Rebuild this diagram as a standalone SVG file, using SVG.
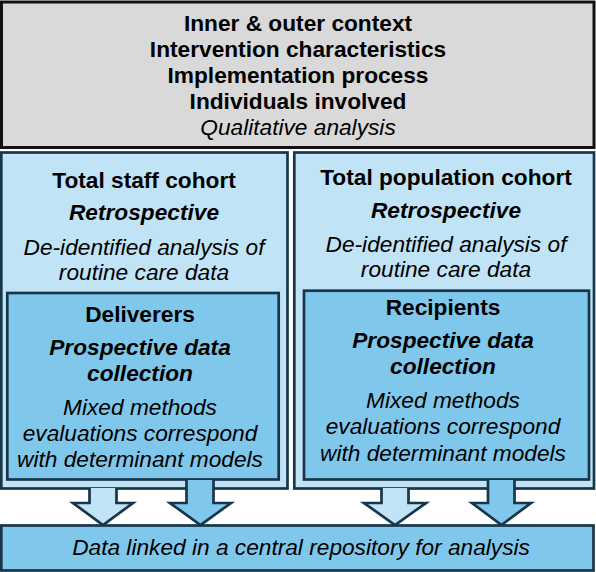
<svg xmlns="http://www.w3.org/2000/svg" width="596" height="572" viewBox="0 0 596 572">
<style>
text{font-family:"Liberation Sans",Arial,Helvetica,sans-serif;font-size:22.7px;fill:#000;text-anchor:middle}
.b{font-weight:bold}
.i{font-style:italic}
.gray{fill:#d9d9d9;stroke:#111;stroke-width:3}
.light{fill:#c0e4f6;stroke:#17364a;stroke-width:2.7}
.mid{fill:#80c8eb;stroke:#17364a;stroke-width:2.7}
</style>
<defs>
<clipPath id="clipR"><rect x="300" y="280" width="296" height="182.5"/></clipPath>
</defs>
<g id="context">
<rect class="gray" x="1.5" y="2" width="592.5" height="145.5"/>
<text class="b" x="298" y="31">Inner &amp; outer context</text>
<text class="b" x="298" y="57">Intervention characteristics</text>
<text class="b" x="298" y="83">Implementation process</text>
<text class="b" x="298" y="109">Individuals involved</text>
<text class="i" x="298" y="135">Qualitative analysis</text>
</g>
<g id="staff">
<rect class="light" x="1.3" y="152.5" width="286.2" height="336"/>
<text class="b" x="144" y="188">Total staff cohort</text>
<text class="b i" x="144" y="220">Retrospective</text>
<text class="i" x="144" y="255">De-identified analysis of</text>
<text class="i" x="144" y="280">routine care data</text>
</g>
<g id="population">
<rect class="light" x="294.3" y="152.5" width="299.7" height="336"/>
<text class="b" x="446" y="185">Total population cohort</text>
<text class="b i" x="446" y="218">Retrospective</text>
<text class="i" x="446" y="252">De-identified analysis of</text>
<text class="i" x="446" y="277">routine care data</text>
</g>
<g id="deliverers">
<rect class="mid" x="7.3" y="293" width="271.4" height="186.5"/>
<text class="b" x="140" y="322">Deliverers</text>
<text class="b i" x="140" y="355">Prospective data</text>
<text class="b i" x="140" y="381">collection</text>
<text class="i" x="140" y="415">Mixed methods</text>
<text class="i" x="140" y="441">evaluations correspond</text>
<text class="i" x="140" y="467">with determinant models</text>
</g>
<g id="recipients">
<rect class="mid" x="304" y="290.7" width="285" height="188.8"/>
<text class="b" x="443" y="315">Recipients</text>
<text class="b i" x="443" y="348">Prospective data</text>
<text class="b i" x="443" y="374">collection</text>
<text class="i" x="443" y="408">Mixed methods</text>
<text class="i" x="443" y="434">evaluations correspond</text>
<text class="i" x="443" y="461" clip-path="url(#clipR)">with determinant models</text>
</g>
<g id="connectors">
<path class="light" d="M89.5,488 V503 H73 L103,525 L133,503 H116.5 V488"/>
<path class="mid" d="M186.5,480 V503 H170 L200.5,525 L231,503 H213.5 V480"/>
<path class="light" d="M381.5,488 V503 H364 L395,525 L426,503 H408.5 V488"/>
<path class="mid" d="M488,480 V503 H472 L501.5,525 L531,503 H514.5 V480"/>
</g>
<g id="repository">
<rect class="mid" x="1.3" y="525.5" width="592.2" height="45"/>
<text class="i" x="301" y="555">Data linked in a central repository for analysis</text>
</g>
</svg>
